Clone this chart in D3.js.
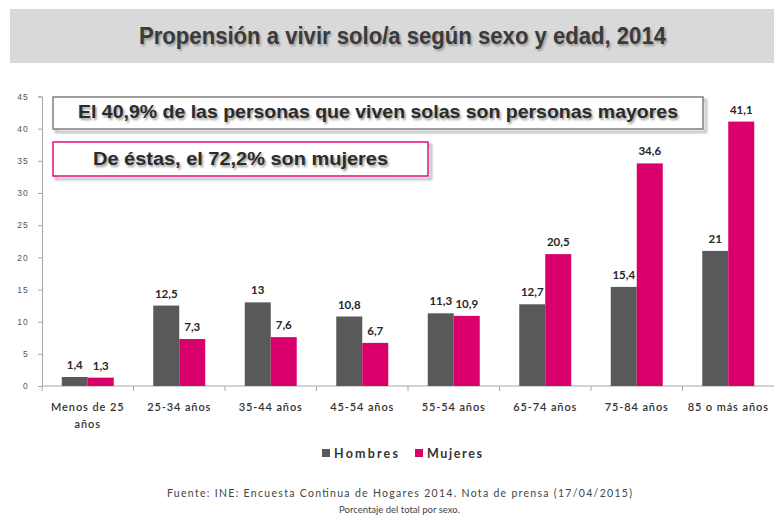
<!DOCTYPE html>
<html><head><meta charset="utf-8">
<script src="https://cdn.jsdelivr.net/npm/d3@7"></script>
<style>body{margin:0;background:#fff}svg{display:block}</style>
</head><body>
<script>
const categories = ["Menos de 25 años","25-34 años","35-44 años","45-54 años","55-54 años","65-74 años","75-84 años","85 o más años"];
const seriesNames = ["Hombres","Mujeres"];
const hombres = [1.4,12.5,13,10.8,11.3,12.7,15.4,21];
const mujeres = [1.3,7.3,7.6,6.7,10.9,20.5,34.6,41.1];
const yTicks = [0,5,10,15,20,25,30,35,40,45];
const colors = {Hombres:"#595959", Mujeres:"#d9006c"};
const title = "Propensión a vivir solo/a según sexo y edad, 2014";
const note1 = "El 40,9% de las personas que viven solas son personas mayores";
const note2 = "De éstas, el 72,2% son mujeres";
const source1 = "Fuente: INE: Encuesta Continua de Hogares 2014. Nota de prensa (17/04/2015)";
const source2 = "Porcentaje del total por sexo.";

const W=774,H=518;
const svg=d3.select("body").append("svg").attr("width",W).attr("height",H);
const defs=svg.append("defs");
const f=defs.append("filter").attr("id","blur").attr("x","-10%").attr("y","-50%").attr("width","120%").attr("height","200%");
f.append("feGaussianBlur").attr("stdDeviation",1.2);

// title band
svg.append("rect").attr("x",10).attr("y",9).attr("width",W-10).attr("height",54).attr("fill","#d9d9d9");
const tfont='"Liberation Sans Narrow","Arial Narrow","Liberation Sans",sans-serif';
svg.append("text").attr("x",140.5).attr("y",45.5).attr("textLength",527).attr("lengthAdjust","spacingAndGlyphs")
  .attr("font-family",tfont).attr("font-weight","bold").attr("font-size",23).attr("fill","#999").attr("filter","url(#blur)").text(title);
svg.append("text").attr("x",139).attr("y",44).attr("textLength",527).attr("lengthAdjust","spacingAndGlyphs")
  .attr("font-family",tfont).attr("font-weight","bold").attr("font-size",23).attr("fill","#3a3a3a").text(title);

const x=d3.scaleBand().domain(categories).range([42,774]).paddingInner(0).paddingOuter(0);
const x1=d3.scaleBand().domain(seriesNames).range([0,x.bandwidth()]).paddingInner(0).paddingOuter(0.76);
const y=d3.scaleLinear().domain([0,45]).range([386,96.5]);

// y axis
const ya=svg.append("g").attr("transform","translate(42,0)").call(d3.axisLeft(y).tickValues(yTicks).tickSize(4).tickPadding(9));
ya.select(".domain").attr("stroke","#a6a6a6");
ya.selectAll(".tick line").attr("stroke","#a6a6a6");
ya.selectAll(".tick text").attr("font-family",'"Liberation Sans",sans-serif').attr("font-size",8.5).attr("letter-spacing",1.2).attr("fill","#555");

// x axis
svg.append("line").attr("x1",42).attr("x2",774).attr("y1",386).attr("y2",386).attr("stroke","#a6a6a6");
categories.forEach(c=>{
  svg.append("line").attr("x1",x(c)).attr("x2",x(c)).attr("y1",386).attr("y2",391).attr("stroke","#a6a6a6");
});
const lfont='Lato,"Open Sans",sans-serif';
categories.forEach(c=>{
  const cx=x(c)+x.bandwidth()/2;
  const t=svg.append("text").attr("text-anchor","middle").attr("font-family",lfont).attr("font-size",11).attr("letter-spacing",0.9).attr("font-weight","600").attr("fill","#333");
  if(c==="Menos de 25 años"){
    t.append("tspan").attr("x",cx).attr("y",411).text("Menos de 25");
    t.append("tspan").attr("x",cx).attr("y",428).text("años");
  } else {
    t.attr("x",cx).attr("y",411).text(c);
  }
});

// bars
const data=categories.map((c,i)=>({c,vals:[{s:"Hombres",v:hombres[i]},{s:"Mujeres",v:mujeres[i]}]}));
const g=svg.selectAll("g.grp").data(data).enter().append("g").attr("transform",d=>`translate(${x(d.c)},0)`);
g.selectAll("rect").data(d=>d.vals).enter().append("rect")
  .attr("x",d=>x1(d.s)).attr("width",x1.bandwidth()).attr("y",d=>y(d.v)).attr("height",d=>386-y(d.v)).attr("fill",d=>colors[d.s]);
g.selectAll("text.lab").data(d=>d.vals).enter().append("text").attr("class","lab")
  .attr("x",d=>x1(d.s)+x1.bandwidth()/2).attr("y",d=>y(d.v)-8).attr("text-anchor","middle")
  .attr("font-family",lfont).attr("font-weight","bold").attr("font-size",11.5).attr("fill","#262626")
  .text(d=>String(d.v).replace(".",","));

// annotation boxes
function box(x0,y0,w,h,stroke){
  svg.append("rect").attr("x",x0+3).attr("y",y0+3).attr("width",w).attr("height",h).attr("fill","none").attr("stroke","#bbb").attr("stroke-width",2.5).attr("filter","url(#blur)");
  svg.append("rect").attr("x",x0).attr("y",y0).attr("width",w).attr("height",h).attr("fill","#fff").attr("stroke",stroke).attr("stroke-width",1.5);
}
box(53,97,650,32,"#7f7f7f");
box(53,142,375,34,"#e0107a");
function ntext(tx,ty,len,str){
  svg.append("text").attr("x",tx+1.5).attr("y",ty+1.5).attr("textLength",len).attr("lengthAdjust","spacingAndGlyphs")
    .attr("font-family",tfont).attr("font-weight","bold").attr("font-size",19).attr("fill","#999").attr("filter","url(#blur)").text(str);
  svg.append("text").attr("x",tx).attr("y",ty).attr("textLength",len).attr("lengthAdjust","spacingAndGlyphs")
    .attr("font-family",tfont).attr("font-weight","bold").attr("font-size",19).attr("fill","#2b2b2b").text(str);
}
ntext(78,118,600,note1);
ntext(93,165,295,note2);

// legend
const leg=[{s:"Hombres",x:322,len:64},{s:"Mujeres",x:415,len:55}];
leg.forEach(l=>{
  svg.append("rect").attr("x",l.x).attr("y",449).attr("width",8).attr("height",8).attr("fill",colors[l.s]);
  svg.append("text").attr("x",l.x+12).attr("y",457.5).attr("textLength",l.len).attr("lengthAdjust","spacing")
    .attr("font-family",lfont).attr("font-weight","bold").attr("font-size",12.5).attr("fill","#333").text(l.s);
});

// source
svg.append("text").attr("x",167).attr("y",497).attr("textLength",465).attr("lengthAdjust","spacing").attr("font-family",lfont).attr("font-size",10.5).attr("fill","#444").text(source1);
svg.append("text").attr("x",399.5).attr("y",513).attr("text-anchor","middle").attr("font-family",lfont).attr("font-size",9.5).attr("fill","#444").text(source2);
</script>
</body></html>
